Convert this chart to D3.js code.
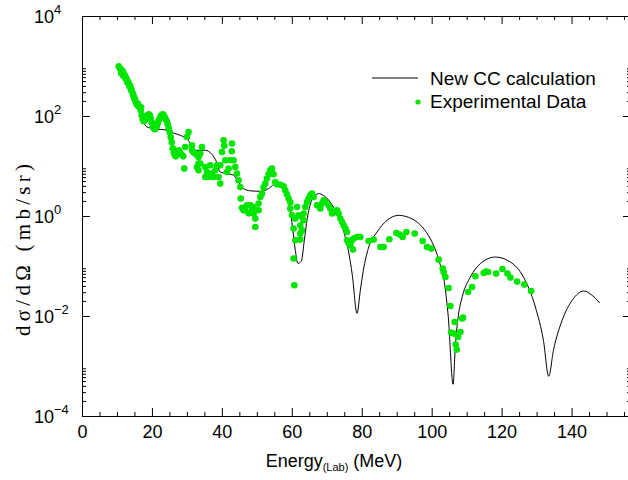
<!DOCTYPE html>
<html>
<head>
<meta charset="utf-8">
<script src="https://cdn.jsdelivr.net/npm/d3@7"></script>
<style>
  body { margin: 0; background: #fff; }
  svg text { font-family: "Liberation Sans", Arial, sans-serif; fill: #000; }
</style>
</head>
<body>
<div id="container"></div>
<script>
/* DATA */
// CC calculation curve
const calcEnergy = [10.44, 11.42, 13.22, 14.94, 16.37, 17.37, 18.57, 20.46, 24.29, 26.18,
  28.10, 30.39, 32.39, 35.25, 37.17, 38.40, 39.54, 41.46, 43.35, 44.78,
  46.21, 48.13, 50.99, 53.36, 54.79, 55.57, 57.57, 59.0, 60.14, 61.0,
  61.72, 62.72, 63.58, 64.43, 65.58, 66.72, 67.67, 69.01, 71.02, 73.02,
  74.73, 76.16, 77.31, 78.65, 79.60, 80.46, 81.89, 84.38, 87.24, 90.47,
  93.33, 95.91, 98.48, 100.77, 102.49, 103.63, 104.78, 106.12, 106.78, 107.64,
  108.78, 111.07, 113.93, 118.22, 122.51, 126.23, 129.66, 131.95, 133.47, 134.82,
  137.31, 140.17, 143.49, 145.89, 148.07]
const calcSigma = [1081, 820, 472, 237, 130, 82, 60.3, 56.0, 51.8, 45.7,
  41.1, 32.7, 20.6, 20.6, 17.1, 12.4, 7.59, 7.05, 6.52, 4.79,
  3.53, 3.19, 3.12, 3.53, 4.21, 4.31, 3.93, 2.06, 0.652, 0.206,
  0.113, 0.124, 0.327, 0.899, 1.97, 2.59, 2.81, 2.59, 1.88, 1.08,
  0.518, 0.206, 0.0652, 0.0113, 0.0327, 0.082, 0.226, 0.479, 0.82, 1.03,
  0.942, 0.748, 0.472, 0.237, 0.103, 0.0472, 0.00899, 0.000431, 0.00259, 0.0103,
  0.0248, 0.0603, 0.112, 0.151, 0.120, 0.0603, 0.0151, 0.00327, 0.000622, 0.00206,
  0.0082, 0.0206, 0.0316, 0.0259, 0.0182]

// experimental points
const expEnergy = [10.50, 10.79, 11.07, 11.36, 11.65, 11.93, 12.22, 12.50, 12.79, 13.08,
  13.36, 13.65, 13.93, 14.22, 14.51, 14.79, 15.08, 15.36, 15.65, 15.94,
  16.22, 16.51, 16.80, 17.08, 17.37, 17.65, 17.94, 18.23, 18.51, 18.80,
  19.08, 19.37, 19.66, 19.94, 20.23, 20.51, 20.80, 21.09, 21.37, 21.66,
  21.95, 22.23, 22.52, 22.80, 23.09, 23.38, 23.66, 23.95, 24.23, 24.52,
  24.81, 25.09, 25.38, 25.66, 25.95, 26.24, 26.52, 26.81, 27.10, 27.38,
  27.67, 27.95, 28.38, 28.95,
  29.24, 29.53, 30.01, 30.47, 31.44, 31.44, 31.90, 32.39, 32.96, 33.33,
  32.88, 33.33, 33.33, 33.82, 34.31, 33.82, 35.25, 35.25, 35.74, 36.19,
  36.68, 37.17, 37.62, 38.11, 38.60, 39.06, 39.54, 39.54, 40.03, 40.49,
  40.69, 42.89, 42.83, 40.97, 41.92, 41.46, 42.40, 43.35, 43.83, 44.32,
  44.78, 45.26, 45.41, 45.75, 46.21, 46.69, 47.18, 47.64, 48.13, 48.61,
  49.07, 49.07, 49.56, 49.56, 50.50, 50.50, 50.99, 51.47, 51.93, 52.42,
  52.90, 53.36, 53.85, 54.33, 54.79, 55.28, 55.76, 56.71, 57.65, 58.14,
  58.63, 59.08, 59.57, 59.57, 60.06,
  61.49, 61.94, 61.00, 62.92, 63.38, 62.43, 60.51, 62.92, 62.43, 61.00,
  62.43, 60.51, 60.71, 63.38, 63.86, 64.35, 64.81, 65.29, 65.78, 66.24,
  67.21, 68.15, 68.64, 69.10, 69.58, 70.53, 71.01, 71.50, 72.45, 72.93,
  73.39, 73.88, 74.36, 74.82, 75.31, 75.79, 75.79, 76.25, 76.74, 77.22,
  77.68, 78.65, 79.60, 77.51, 76.74, 81.97, 83.40, 85.32, 86.27, 87.90,
  89.90, 90.84, 91.70, 92.76, 95.13, 97.42, 98.68, 99.91, 102.00, 103.15,
  103.43, 103.92, 104.86, 105.35, 106.58, 105.55, 106.29, 107.55, 108.21, 106.87,
  107.15, 108.70, 108.98, 110.41, 111.56, 112.50, 114.88, 115.56, 116.14, 118.43,
  120.23, 121.66, 122.52, 124.43, 126.52, 128.44,
  // extra points thickening the 10-17 MeV band
  11.2, 11.8, 12.4, 13.0, 13.5, 14.0, 14.6, 15.2, 16.0, 16.9]
const expSigma = [986, 899, 859, 820, 783, 714, 652, 594, 542, 494,
  451, 411, 375, 327, 284, 248, 216, 188, 171, 164,
  156, 149, 130, 103, 85.9, 78.3, 82.0, 89.9, 98.6, 103,
  108, 103, 89.9, 74.8, 62.2, 56.8, 54.2, 56.8, 62.2, 71.4,
  82.0, 89.9, 98.6, 103, 108, 103, 94.2, 85.9, 78.3, 68.2,
  56.8, 47.2, 37.5, 29.8, 22.6, 18.8, 16.4, 15.6, 17.1, 19.7,
  20.6, 18.8, 17.1, 15.6,
  8.87, 24.0, 38.0, 47.9, 25.9, 20.6, 18.8, 17.7, 16.4, 15.1,
  9.55, 11.2, 8.20, 17.7, 24.0, 11.2, 9.55, 6.03, 7.59, 6.03,
  10.3, 7.05, 6.03, 8.20, 10.3, 6.03, 10.3, 4.45, 19.1, 32.7,
  25.4, 28.1, 19.7, 13.0, 8.87, 7.59, 13.0, 13.0, 9.55, 7.05,
  5.18, 3.80, 2.23, 1.46, 1.30, 1.30, 1.64, 1.13, 1.64, 1.30,
  1.51, 1.12, 0.887, 0.603, 1.30, 1.77, 2.40, 2.81, 3.75, 4.45,
  5.60, 6.82, 8.20, 8.87, 6.82, 4.79, 4.31, 4.21, 3.93, 3.27,
  2.72, 2.23, 1.88, 1.41, 1.03,
  1.51, 1.03, 0.887, 0.955, 0.820, 0.652, 0.560, 0.518, 0.445, 0.327,
  0.337, 0.141, 0.0411, 1.12, 1.51, 1.91, 2.23, 2.59, 2.81, 2.40,
  1.64, 1.41, 1.77, 2.06, 1.91, 1.64, 1.41, 1.12, 1.20, 1.30,
  1.12, 0.887, 0.759, 0.652, 0.560, 0.479, 0.327, 0.281, 0.302, 0.327,
  0.353, 0.380, 0.380, 0.213, 0.259, 0.316, 0.337, 0.240, 0.240, 0.342,
  0.457, 0.425, 0.380, 0.479, 0.445, 0.316, 0.240, 0.223, 0.134, 0.0887,
  0.0759, 0.0603, 0.0363, 0.0158, 0.00759, 0.00466, 0.00445, 0.00380, 0.00479, 0.00268,
  0.00213, 0.00887, 0.00929, 0.0302, 0.0380, 0.0622, 0.0724, 0.0773, 0.0759, 0.0705,
  0.0871, 0.0705, 0.0586, 0.0488, 0.0425, 0.0316,
  720, 640, 560, 470, 400, 330, 270, 215, 175, 150]

const xTickValues = [0, 20, 40, 60, 80, 100, 120, 140]
const yTickPowers = [-4, -2, 0, 2, 4]
const legendLabels = ["New CC calculation", "Experimental Data"]

/* CONSTANTS AND GLOBALS */
const width = 628,
      height = 480,
      margin = { top: 16, right: -3, bottom: 64, left: 82 }
const green = "#00e600"

const svg = d3.select("#container")
  .append("svg")
  .attr("width", width)
  .attr("height", height)

// SCALES
const x = d3.scaleLinear()
  .domain([0, 157])
  .range([margin.left, width - margin.right])
const y = d3.scaleLog()
  .domain([1e-4, 1e4])
  .range([height - margin.bottom, margin.top])

// minor tick positions
const xMinor = d3.range(0, 157, 5).filter(v => v % 20 !== 0)
const yMinor = []
yTickPowers.slice(0, -1).forEach(p => {
  for (let k = 2; k <= 9; k++) yMinor.push(k * Math.pow(10, p))
})
const yMajor = yTickPowers.map(p => Math.pow(10, p))

// AXES: frame with inward ticks on all four sides
const drawAxis = (axisFn, scale, major, minor, tx, ty) => {
  const g = svg.append("g").attr("transform", `translate(${tx},${ty})`)
  g.call(axisFn(scale).tickValues(major).tickSize(-8).tickSizeOuter(0).tickFormat(""))
  g.append("g").call(axisFn(scale).tickValues(minor).tickSize(-4).tickSizeOuter(0).tickFormat(""))
    .select(".domain").remove()
  g.selectAll("line, path").attr("stroke", "#000")
  return g
}
drawAxis(d3.axisBottom, x, xTickValues, xMinor, 0, height - margin.bottom)
drawAxis(d3.axisTop, x, xTickValues, xMinor, 0, margin.top)
drawAxis(d3.axisLeft, y, yMajor, yMinor, margin.left, 0)
drawAxis(d3.axisRight, y, yMajor, yMinor, width - margin.right, 0)

// x tick labels
svg.selectAll(".xlab")
  .data(xTickValues)
  .join("text")
  .attr("class", "xlab")
  .attr("x", d => x(d) + 0.5)
  .attr("y", height - margin.bottom + 22)
  .attr("text-anchor", "middle")
  .attr("font-size", "18px")
  .text(d => d)

// y tick labels as powers of ten
svg.selectAll(".ylab")
  .data(yTickPowers)
  .join("text")
  .attr("class", "ylab")
  .attr("x", 34)
  .attr("y", d => y(Math.pow(10, d)) + 7)
  .attr("font-size", "18px")
  .each(function(d) {
    const t = d3.select(this)
    t.append("tspan").text("10")
    t.append("tspan").attr("dy", -9).attr("font-size", "13px")
      .text(d < 0 ? "\u2212" + (-d) : d)
  })

// axis titles
const xTitle = svg.append("text")
  .attr("x", 334)
  .attr("y", 467)
  .attr("text-anchor", "middle")
  .attr("font-size", "18px")
xTitle.append("tspan").text("Energy")
xTitle.append("tspan").attr("dy", 4).attr("font-size", "11px").text("(Lab)")
xTitle.append("tspan").attr("dy", -4).text(" (MeV)")

svg.append("text")
  .attr("transform", "translate(30,250) rotate(-90)")
  .attr("text-anchor", "middle")
  .attr("font-size", "21px")
  .attr("textLength", 172)
  .attr("lengthAdjust", "spacing")
  .style("font-family", "'Liberation Serif', serif")
  .text("d\u03c3/d\u03a9 (mb/sr)")

// CC calculation line
const lineGen = d3.line()
  .x(d => x(d[0]))
  .y(d => y(d[1]))
  .curve(d3.curveMonotoneX)

svg.append("path")
  .datum(d3.zip(calcEnergy, calcSigma))
  .attr("d", lineGen)
  .attr("fill", "none")
  .attr("stroke", "#000")
  .attr("stroke-width", 1)

// experimental points on top
svg.selectAll("circle.exp")
  .data(d3.zip(expEnergy, expSigma))
  .join("circle")
  .attr("class", "exp")
  .attr("cx", d => x(d[0]))
  .attr("cy", d => y(d[1]))
  .attr("r", 3.3)
  .attr("fill", green)

// legend
const legend = svg.append("g")
legend.append("line")
  .attr("x1", 372).attr("x2", 418)
  .attr("y1", 78).attr("y2", 78)
  .attr("stroke", "#000")
  .attr("stroke-width", 1)
legend.append("circle")
  .attr("cx", 418).attr("cy", 102)
  .attr("r", 2.6)
  .attr("fill", green)
legend.selectAll("text")
  .data(legendLabels)
  .join("text")
  .attr("x", 430)
  .attr("y", (d, i) => 85 + i * 23)
  .attr("font-size", "19px")
  .text(d => d)
</script>
</body>
</html>
